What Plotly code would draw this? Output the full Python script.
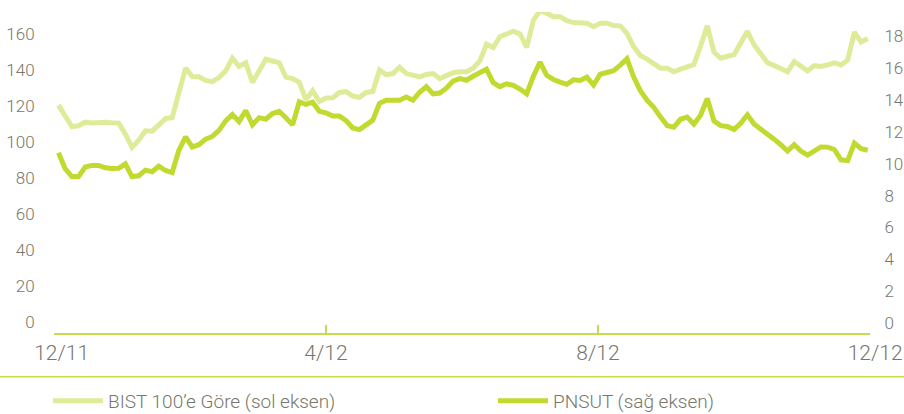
import pandas as pd
import plotly.graph_objects as go

# ---- data ----
dates = pd.date_range("2011-12-03", periods=122, freq="3D")

bist = [120.5, 115, 108.5, 109, 111, 110.5, 111, 111, 110.7, 110.5,
        104.5, 97, 101, 106.2, 106, 109.5, 113, 113.5, 127, 141,
        136.3, 136.2, 134.2, 133.5, 135.8, 139.5, 146.5, 142, 144, 133,
        139.5, 146, 145, 144, 136, 135.2, 133.2, 123.5, 128.5, 122.5,
        124.4, 124.6, 127.5, 128, 125.5, 124.8, 127.5, 128, 140, 137.3,
        138, 141.5, 138, 137.3, 136.2, 137.5, 138, 135.2, 137, 138.5,
        139, 139, 141, 145, 154.3, 152.5, 158.5, 160.3, 161.5, 160,
        152.5, 167.5, 173, 171.5, 169.6, 169.6, 167.4, 166.3, 166.4, 166,
        164, 166, 166, 164.7, 164.5, 160.3, 153, 148, 146, 143.6,
        141, 141, 139, 140.5, 142, 143, 153.3, 164.5, 150, 146.5,
        147.6, 148.4, 155, 161.5, 154, 148.8, 144, 142.5, 140.5, 139,
        144.7, 142.2, 139.5, 142.4, 142, 142.8, 144, 142.8, 145.5, 161,
        155.5, 157.5]

pnsut = [10.7, 9.7, 9.2, 9.2, 9.8, 9.9, 9.9, 9.75, 9.7, 9.72,
         10.0, 9.2, 9.25, 9.6, 9.5, 9.85, 9.58, 9.45, 10.85, 11.7,
         11.06, 11.2, 11.55, 11.72, 12.1, 12.7, 13.1, 12.65, 13.35, 12.45,
         12.9, 12.8, 13.16, 13.3, 12.9, 12.45, 13.9, 13.73, 13.87, 13.3,
         13.2, 13.0, 13.0, 12.72, 12.25, 12.15, 12.45, 12.75, 13.8, 14.0,
         14.0, 14.0, 14.2, 14.0, 14.5, 14.85, 14.4, 14.45, 14.75, 15.2,
         15.35, 15.25, 15.5, 15.7, 15.95, 15.1, 14.85, 15.03, 14.93, 14.7,
         14.4, 15.5, 16.39, 15.56, 15.3, 15.14, 15.0, 15.28, 15.24, 15.45,
         14.95, 15.63, 15.77, 15.85, 16.2, 16.6, 15.45, 14.6, 14.0, 13.55,
         12.95, 12.4, 12.3, 12.8, 12.94, 12.5, 13.05, 14.1, 12.7, 12.4,
         12.35, 12.15, 12.55, 13.08, 12.5, 12.2, 11.85, 11.55, 11.2, 10.8,
         11.2, 10.8, 10.55, 10.8, 11.06, 11.05, 10.9, 10.25, 10.2, 11.3,
         10.95, 10.85]

x_tick_dates = ["2011-12-01", "2012-04-01", "2012-08-01", "2012-12-01"]
x_tick_labels = ["\u00a0\u00a0\u00a012/11", "4/12", "8/12", "\u00a0\u00a012/12"]
left_ticks = [0, 20, 40, 60, 80, 100, 120, 140, 160]
right_ticks = [0, 2, 4, 6, 8, 10, 12, 14, 16, 18]

name_bist = "BIST 100’e Göre (sol eksen)"
name_pnsut = "PNSUT (sağ eksen)"

# ---- style ----
C_BIST = "#dfeb99"
C_PNSUT = "#c2d92f"
C_AXIS = "#c6dc4e"
C_TEXT = "#77776b"
FONT = "Roboto"
CLEAR = "rgba(0,0,0,0)"

fig = go.Figure()
fig.add_trace(go.Scatter(x=dates, y=bist, name=name_bist, mode="lines",
                         line=dict(color=C_BIST, width=5), yaxis="y",
                         legend="legend"))
fig.add_trace(go.Scatter(x=dates, y=pnsut, name=name_pnsut, mode="lines",
                         line=dict(color=C_PNSUT, width=5), yaxis="y2",
                         legend="legend2"))

legend_common = dict(orientation="h", xref="container", yref="container",
                     xanchor="left", yanchor="middle", itemwidth=50,
                     font=dict(size=19, color=C_TEXT, family=FONT, weight=300),
                     bgcolor=CLEAR)

fig.update_layout(
    width=904, height=414,
    margin=dict(l=54, r=34, t=12, b=81, autoexpand=False),
    paper_bgcolor="white", plot_bgcolor="white",
    font=dict(family=FONT, color=C_TEXT, size=17, weight=300),
    showlegend=True,
    legend=dict(x=48 / 904, y=13 / 414, **legend_common),
    legend2=dict(x=493 / 904, y=13 / 414, **legend_common),
    xaxis=dict(type="date", range=["2011-12-01", "2012-12-01"],
               tickmode="array", tickvals=x_tick_dates, ticktext=x_tick_labels,
               ticks="inside", ticklen=8, tickwidth=1.5, tickcolor=C_AXIS,
               showline=True, linecolor=C_AXIS, linewidth=1.5,
               showgrid=False, zeroline=False, automargin=False,
               tickfont=dict(size=21, color=C_TEXT)),
    yaxis=dict(range=[-6.1, 172.2], tickmode="array", tickvals=left_ticks,
               showgrid=False, zeroline=False, showline=False,
               ticks="outside", ticklen=15, tickcolor=CLEAR, automargin=False,
               tickfont=dict(size=17, color=C_TEXT)),
    yaxis2=dict(range=[-0.63, 19.54], tickmode="array", tickvals=right_ticks,
                overlaying="y", side="right",
                showgrid=False, zeroline=False, showline=False,
                ticks="outside", ticklen=10, tickcolor=CLEAR, automargin=False,
                tickfont=dict(size=17, color=C_TEXT)),
    shapes=[dict(type="line", xref="paper", yref="paper",
                 x0=-0.07, x1=1.05, y0=-0.1361, y1=-0.1361,
                 line=dict(color=C_AXIS, width=1.5))],
)

fig.write_html("out.html",
               config={"displayModeBar": False},
               post_script="document.body.style.margin='0';"
                           "document.body.style.padding='0';")
